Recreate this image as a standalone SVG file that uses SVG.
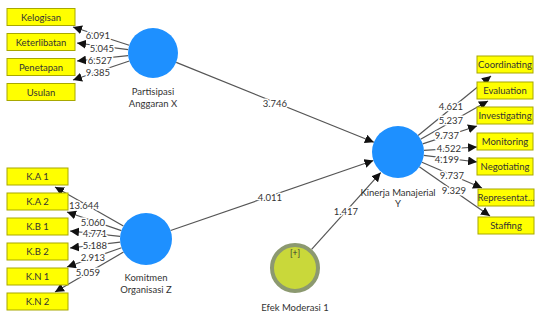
<svg xmlns="http://www.w3.org/2000/svg" width="545" height="318" viewBox="0 0 545 318">
<style>
text{font-family:Lato,"Open Sans","DejaVu Sans",sans-serif;font-size:9.5px;fill:#333;text-anchor:middle;dominant-baseline:central}
.box{fill:#ffff00;stroke:#a8a800;stroke-width:1}
.lv{fill:#1e90ff;stroke:none}
.mod{fill:#c9d83a;stroke:#8c9970;stroke-width:4}
.ln{stroke:#555;stroke-width:1.2;fill:none;marker-end:url(#ah)}
.lbl{paint-order:stroke;stroke:#fff;stroke-width:3px;stroke-linejoin:round}
</style>
<defs>
<marker id="ah" markerUnits="userSpaceOnUse" markerWidth="10" markerHeight="9" refX="9" refY="4.5" orient="auto">
<path d="M0,0 L9,4.5 L0,9 Z" fill="#111"/>
</marker>
</defs>
<rect width="545" height="318" fill="#fff"/>
<g id="connectors">
<line class="ln" x1="129.2" y1="45.3" x2="73" y2="27"/>
<line class="ln" x1="128.2" y1="49.7" x2="77" y2="43"/>
<line class="ln" x1="128.1" y1="55.6" x2="77" y2="61"/>
<line class="ln" x1="129.3" y1="61" x2="73" y2="80"/>
<line class="ln" x1="123.4" y1="226.1" x2="55" y2="187"/>
<line class="ln" x1="121.4" y1="230.6" x2="67" y2="212"/>
<line class="ln" x1="120.1" y1="236.3" x2="70" y2="231"/>
<line class="ln" x1="120.2" y1="242.1" x2="70" y2="248"/>
<line class="ln" x1="121.5" y1="247.7" x2="67" y2="267"/>
<line class="ln" x1="123.5" y1="252.1" x2="55" y2="292"/>
<line class="ln" x1="418.1" y1="135.5" x2="491" y2="76"/>
<line class="ln" x1="420.6" y1="139.2" x2="488" y2="101"/>
<line class="ln" x1="422.7" y1="143.9" x2="477" y2="126"/>
<line class="ln" x1="423.9" y1="150.4" x2="477" y2="147"/>
<line class="ln" x1="423.8" y1="155.3" x2="477" y2="162"/>
<line class="ln" x1="421.9" y1="162.2" x2="482" y2="188"/>
<line class="ln" x1="419.3" y1="166.8" x2="490" y2="216"/>
<line class="ln" x1="176.2" y1="62.4" x2="373.9" y2="142.3"/>
<line class="ln" x1="170.6" y1="230.5" x2="373.4" y2="160.5"/>
<line class="ln" x1="311.6" y1="249.3" x2="380.7" y2="172.6"/>
<g id="path-labels">
<text class="lbl" x="98" y="35">6.091</text>
<text class="lbl" x="102" y="48">5.045</text>
<text class="lbl" x="100" y="60">6.527</text>
<text class="lbl" x="98" y="72">9.385</text>
<text class="lbl" x="84" y="205">13.644</text>
<text class="lbl" x="93" y="222">5.060</text>
<text class="lbl" x="95" y="233">4.771</text>
<text class="lbl" x="95" y="245">5.188</text>
<text class="lbl" x="93" y="257">2.913</text>
<text class="lbl" x="88" y="272">5.059</text>
<text class="lbl" x="451" y="106">4.621</text>
<text class="lbl" x="451" y="120">5.237</text>
<text class="lbl" x="447" y="135">9.737</text>
<text class="lbl" x="449" y="148">4.522</text>
<text class="lbl" x="447" y="159">4.199</text>
<text class="lbl" x="452" y="175">9.737</text>
<text class="lbl" x="454" y="190">9.329</text>
<text class="lbl" x="275" y="103">3.746</text>
<text class="lbl" x="270" y="197">4.011</text>
<text class="lbl" x="346" y="211">1.417</text>
</g>
</g>
<g id="partisipasi">
<circle class="lv" cx="153" cy="53" r="25"/>
<text x="153" y="91.5">Partisipasi</text>
<text x="153" y="103">Anggaran X</text>
</g>
<g id="komitmen">
<circle class="lv" cx="146" cy="239" r="26"/>
<text x="146" y="277.5">Komitmen</text>
<text x="146" y="289">Organisasi Z</text>
</g>
<g id="kinerja">
<circle class="lv" cx="398" cy="152" r="26"/>
<text x="398" y="192">Kinerja Manajerial</text>
<text x="398" y="203.5">Y</text>
</g>
<g id="efek">
<circle class="mod" cx="295" cy="268" r="23"/>
<text x="295" y="253" style="font-size:8.5px">[+]</text>
<text x="295" y="307">Efek Moderasi 1</text>
</g>
<g id="kelogisan"><rect class="box" x="7" y="8.5" width="68" height="17"/><text x="41" y="17">Kelogisan</text></g>
<g id="keterlibatan"><rect class="box" x="7" y="33.5" width="68" height="17"/><text x="41" y="42">Keterlibatan</text></g>
<g id="penetapan"><rect class="box" x="7" y="58.5" width="68" height="17"/><text x="41" y="67">Penetapan</text></g>
<g id="usulan"><rect class="box" x="7" y="83.5" width="68" height="17"/><text x="41" y="92">Usulan</text></g>
<g id="ka1"><rect class="box" x="7" y="168" width="61" height="17"/><text x="37.5" y="176.5">K.A 1</text></g>
<g id="ka2"><rect class="box" x="7" y="193" width="61" height="17"/><text x="37.5" y="201.5">K.A 2</text></g>
<g id="kb1"><rect class="box" x="7" y="218" width="61" height="17"/><text x="37.5" y="226.5">K.B 1</text></g>
<g id="kb2"><rect class="box" x="7" y="243" width="61" height="17"/><text x="37.5" y="251.5">K.B 2</text></g>
<g id="kn1"><rect class="box" x="7" y="268" width="61" height="17"/><text x="37.5" y="276.5">K.N 1</text></g>
<g id="kn2"><rect class="box" x="7" y="293" width="61" height="17"/><text x="37.5" y="301.5">K.N 2</text></g>
<g id="coordinating"><rect class="box" x="477" y="56" width="56" height="17"/><text x="505" y="64.5">Coordinating</text></g>
<g id="evaluation"><rect class="box" x="477" y="82" width="56" height="17"/><text x="505" y="90.5">Evaluation</text></g>
<g id="investigating"><rect class="box" x="477" y="107" width="56" height="17"/><text x="505" y="115.5">Investigating</text></g>
<g id="monitoring"><rect class="box" x="477" y="133" width="56" height="17"/><text x="505" y="141.5">Monitoring</text></g>
<g id="negotiating"><rect class="box" x="477" y="158" width="56" height="17"/><text x="505" y="166.5">Negotiating</text></g>
<g id="representat"><rect class="box" x="478" y="189" width="56" height="17"/><text x="506" y="197.5">Representat...</text></g>
<g id="staffing"><rect class="box" x="478" y="217" width="56" height="17"/><text x="506" y="225.5">Staffing</text></g>
</svg>
